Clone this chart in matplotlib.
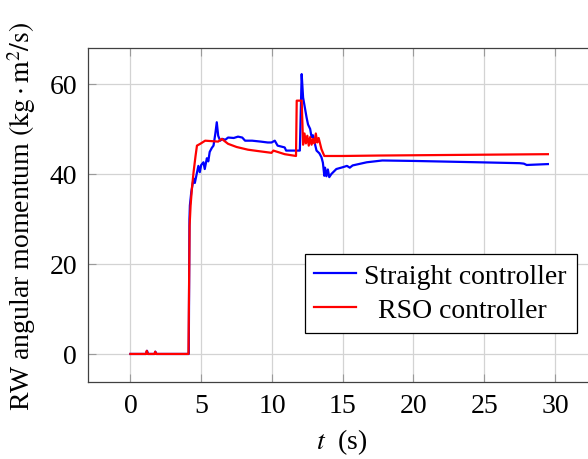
import matplotlib
matplotlib.use('Agg')
import matplotlib.pyplot as plt

plt.rcParams['font.family'] = ['Liberation Serif', 'DejaVu Serif']
plt.rcParams['mathtext.fontset'] = 'stix'

# Straight controller
t_straight = [0, 1.1, 1.17, 1.25, 1.7, 1.76, 1.85, 4.12, 4.17, 4.2, 4.3, 4.46, 4.55, 4.8, 4.9,
              5.0, 5.16, 5.25, 5.4, 5.5, 5.6, 5.75, 5.87, 6.0, 6.1, 6.2, 6.34, 6.5, 6.7, 6.9,
              7.3, 7.6, 7.9, 8.1, 8.6, 9.2, 9.7, 9.97, 10.2, 10.4, 10.9, 11.0, 11.97, 12.1,
              12.2, 12.3, 12.45, 12.55, 12.7, 12.8, 12.9, 13.05, 13.15, 13.35, 13.5, 13.6,
              13.7, 13.75, 13.85, 13.95, 14.05, 14.2, 14.55, 15.0, 15.3, 15.5, 15.7, 16.7,
              17.8, 20.0, 24.6, 27.5, 27.8, 28.0, 29.5]
straight = [0, 0, 0.7, 0, 0, 0.5, 0, 0, 30, 33, 36, 39, 38, 41.8, 40.4,
            42.0, 42.6, 41.1, 43.5, 42.8, 44.9, 45.8, 46.3, 49.0, 51.5, 48.5, 47.4, 47.8, 47.6,
            48.1, 48.0, 48.3, 48.1, 47.4, 47.4, 47.2, 47.0, 47.0, 47.4, 46.3, 45.9, 45.2, 45.2,
            62.2, 57.0, 55.2, 52.5, 51.0, 50.0, 48.2, 48.6, 46.5, 45.2, 44.6, 43.7, 42.5,
            39.6, 41.4, 39.5, 41.0, 39.3, 40.0, 41.1, 41.5, 41.8, 41.4, 41.9, 42.6,
            43.0, 42.9, 42.6, 42.4, 42.3, 42.0, 42.2]

# RSO controller
t_rso = [0, 1.1, 1.15, 1.22, 1.7, 1.75, 1.82, 4.1, 4.18, 4.25, 4.35, 4.46, 4.6, 4.7, 4.93,
         5.28, 6.2, 6.45, 6.9, 7.5, 8.3, 9.0, 9.97, 10.1, 10.9, 11.7, 11.75, 12.1, 12.2,
         12.3, 12.4, 12.5, 12.6, 12.7, 12.8, 12.9, 13.0, 13.1, 13.2, 13.3, 13.5, 13.7,
         15.0, 17.6, 29.5]
rso = [0, 0, 0.7, 0, 0, 0.5, 0, 0, 28.5, 33, 37, 40.4, 44.0, 46.3, 46.7,
       47.4, 47.2, 47.8, 46.7, 46.0, 45.4, 45.1, 44.7, 45.2, 44.4, 44.0, 56.3, 56.3, 46.5,
       49.0, 46.8, 48.5, 46.3, 48.2, 46.5, 47.8, 46.8, 49.0, 47.0, 48.0, 45.5, 44.0,
       44.0, 44.1, 44.4]

fig = plt.figure(figsize=(5.88, 4.6), dpi=100)
ax = fig.add_axes([88 / 588, (460 - 383.3) / 460, (596 - 88) / 588, (383.3 - 49) / 460])

ax.plot(t_straight, straight, color='#0000ff', lw=1.6, label='Straight controller', zorder=3)
ax.plot(t_rso, rso, color='#ff0000', lw=1.6, label='  RSO controller', zorder=3)

ax.set_xlim(-3, 32.9)
ax.set_ylim(-6.3, 68)
ax.set_xticks([0, 5, 10, 15, 20, 25, 30])
ax.set_yticks([0, 20, 40, 60])
ax.grid(True, color='#d3d3d3', lw=0.9)
ax.set_axisbelow(True)
ax.tick_params(direction='in', length=6, width=0.8, color='#9a9a9a',
               top=True, right=True, labelsize=20, pad=8)
for s in ax.spines.values():
    s.set_color('#404040')
    s.set_linewidth(0.9)

ax.set_xlabel('$t$  (s)', fontsize=20, labelpad=6)
ax.set_ylabel(r'RW angular momentum $(\mathrm{kg}\cdot\mathrm{m}^2/\mathrm{s})$', fontsize=20, labelpad=8)

leg = ax.legend(loc='upper right', bbox_to_anchor=(0.962, 0.384), borderaxespad=0,
                fontsize=20, fancybox=False, framealpha=1, edgecolor='black',
                handlelength=1.5, handletextpad=0.3, borderpad=0.35, labelspacing=0.3)
leg.get_frame().set_linewidth(0.9)

fig.savefig('out.png', dpi=100)
